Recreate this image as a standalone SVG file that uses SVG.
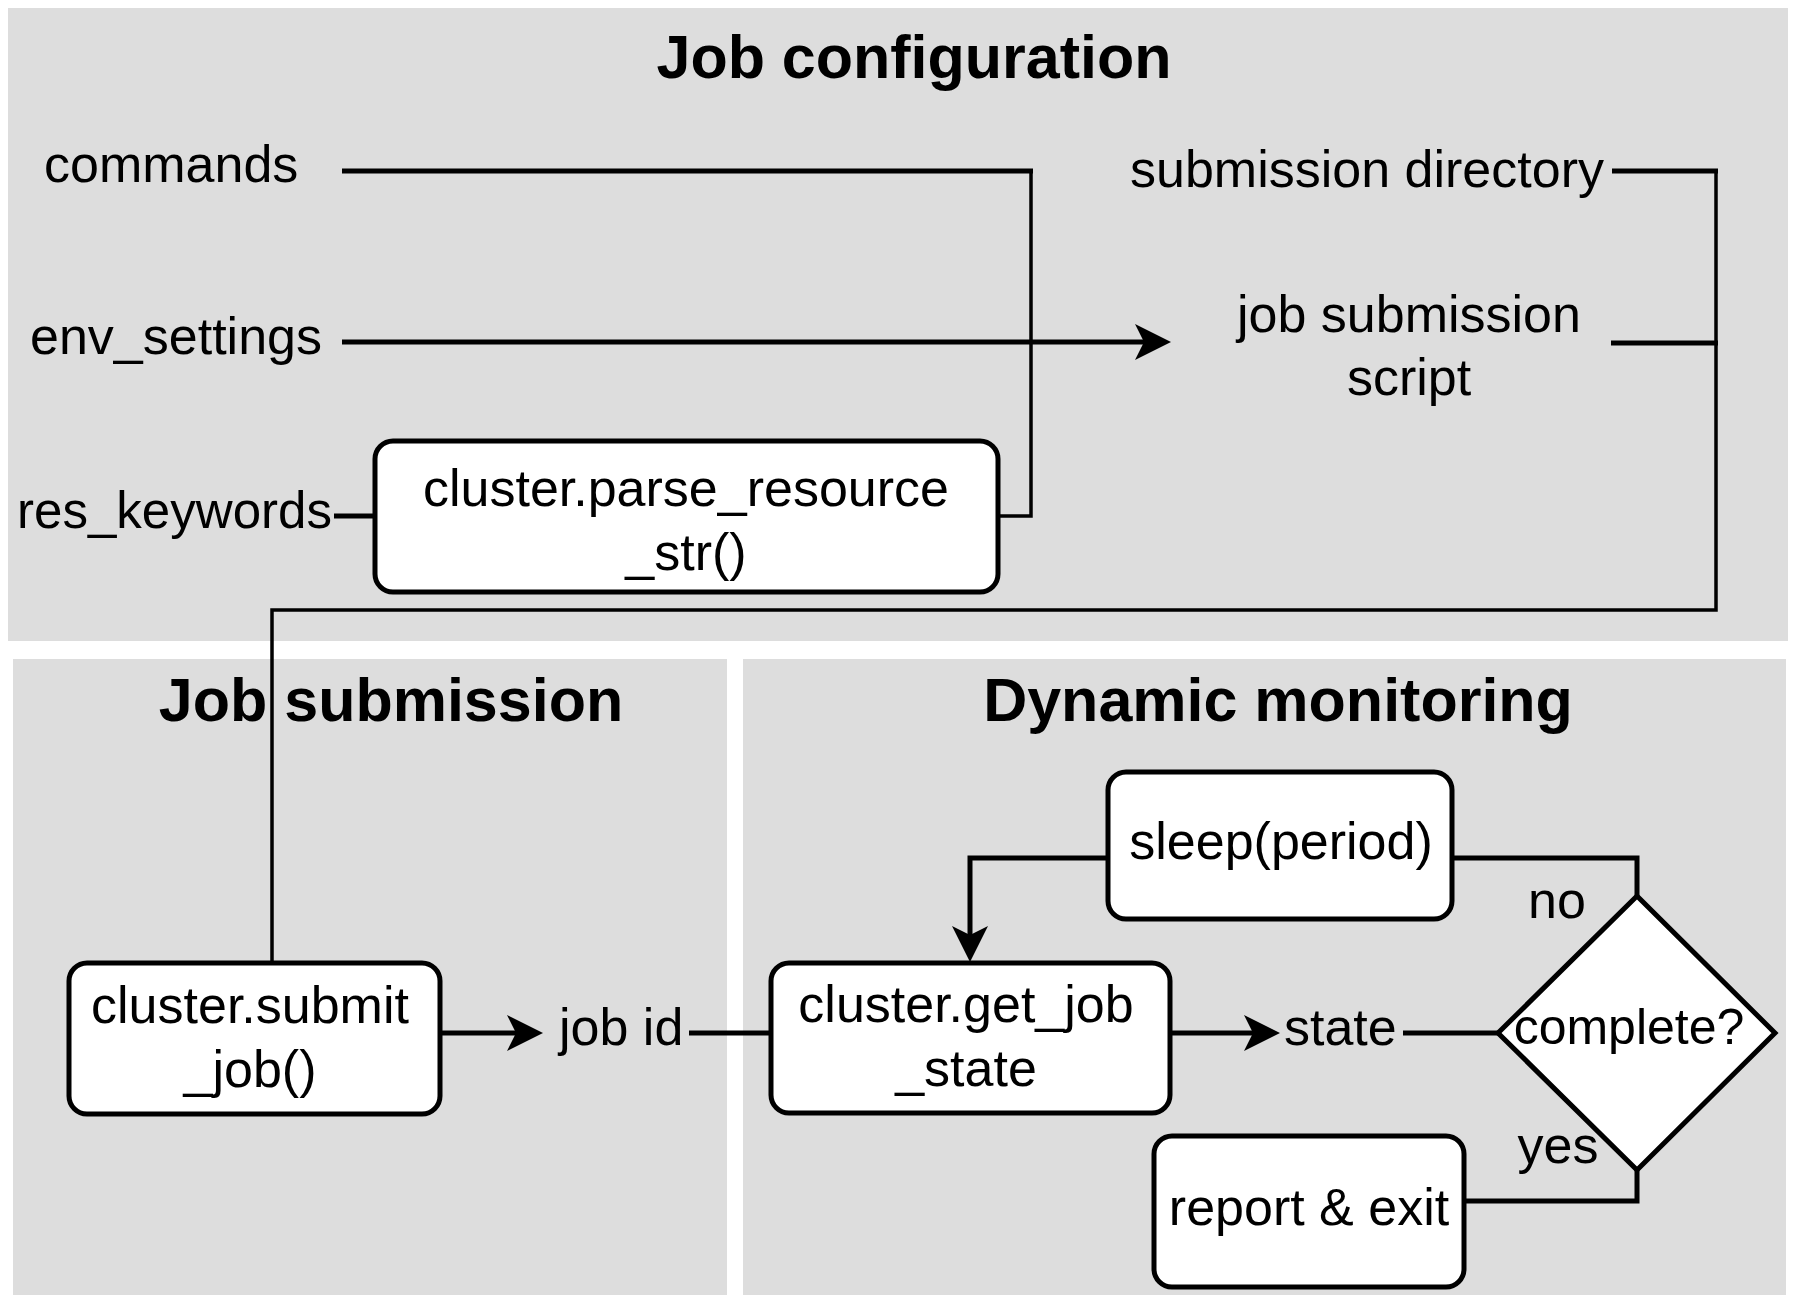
<svg xmlns="http://www.w3.org/2000/svg" width="1800" height="1307" viewBox="0 0 1800 1307">
<style>
  .panel { fill: #dddddd; stroke: none; }
  .box { fill: #ffffff; stroke: #000000; stroke-width: 5; }
  .title { font-family: "Liberation Sans", Arial, sans-serif; font-weight: bold; font-size: 61px; fill: #000; text-anchor: middle; }
  .lbl { font-family: "Liberation Sans", Arial, sans-serif; font-size: 52px; fill: #000; }
  .mid { text-anchor: middle; }
  .conn { fill: none; stroke: #000; stroke-width: 5; stroke-linejoin: miter; }
  .thin { stroke-width: 3.5; stroke-linecap: square; }
</style>
<defs>
  <marker id="arrow" markerUnits="userSpaceOnUse" markerWidth="40" markerHeight="40" viewBox="-1 -20 40 40" refX="9" refY="0" orient="auto">
    <path d="M0,-18 L36,0 L0,18 L9,0 z" fill="#000"/>
  </marker>
</defs>
<rect width="1800" height="1307" fill="#ffffff"/>
<g id="panels">
  <rect class="panel" x="8" y="8" width="1780" height="633"/>
  <rect class="panel" x="13" y="659" width="714" height="636"/>
  <rect class="panel" x="743" y="659" width="1043" height="636"/>
  <text class="title" x="914" y="78">Job configuration</text>
  <text class="title" x="391" y="721">Job submission</text>
  <text class="title" x="1278" y="721">Dynamic monitoring</text>
</g>
<g id="connectors">
  <path class="conn" d="M342,171 L1033,171"/>
  <path class="conn thin" d="M1031,171 L1031,516 L998,516"/>
  <path class="conn" d="M342,342 L1144,342" marker-end="url(#arrow)"/>
  <path class="conn" d="M334,516 L375,516"/>
  <path class="conn" d="M1612,171 L1718,171"/>
  <path class="conn thin" d="M1716,171 L1716,610 L272,610 L272,963"/>
  <path class="conn" d="M1611,343 L1718,343"/>
  <path class="conn" d="M440,1033 L516,1033" marker-end="url(#arrow)"/>
  <path class="conn" d="M689,1033 L771,1033"/>
  <path class="conn" d="M1170,1033 L1253,1033" marker-end="url(#arrow)"/>
  <path class="conn" d="M1403,1033 L1498,1033"/>
  <path class="conn" d="M1637,896 L1637,858 L1452,858"/>
  <path class="conn" d="M1108,858 L970,858 L970,935" marker-end="url(#arrow)"/>
  <path class="conn" d="M1637,1170 L1637,1201 L1464,1201"/>
</g>
<g id="commands"><text class="lbl" x="44" y="182">commands</text></g>
<g id="env_settings"><text class="lbl" x="30" y="354">env_settings</text></g>
<g id="res_keywords"><text class="lbl" x="17" y="528" textLength="315" lengthAdjust="spacingAndGlyphs">res_keywords</text></g>
<g id="submission_directory"><text class="lbl mid" x="1367" y="187">submission directory</text></g>
<g id="job_submission_script">
  <text class="lbl mid" x="1409" y="332">job submission</text>
  <text class="lbl mid" x="1409" y="395">script</text>
</g>
<g id="parse_resource">
  <rect class="box" x="375" y="441" width="623" height="151" rx="18"/>
  <text class="lbl mid" x="686" y="506">cluster.parse_resource</text>
  <text class="lbl mid" x="686" y="570">_str()</text>
</g>
<g id="submit_job">
  <rect class="box" x="69" y="963" width="371" height="151" rx="18"/>
  <text class="lbl mid" x="250" y="1023">cluster.submit</text>
  <text class="lbl mid" x="250" y="1087">_job()</text>
</g>
<g id="job_id"><text class="lbl" x="559" y="1045">job id</text></g>
<g id="get_job_state">
  <rect class="box" x="771" y="963" width="399" height="150" rx="18"/>
  <text class="lbl mid" x="966" y="1022">cluster.get_job</text>
  <text class="lbl mid" x="966" y="1086">_state</text>
</g>
<g id="state"><text class="lbl" x="1284" y="1045">state</text></g>
<g id="complete">
  <polygon class="box" points="1498,1033 1637,896 1775,1033 1637,1170"/>
  <text class="lbl mid" x="1629" y="1044" style="font-size:50px">complete?</text>
</g>
<g id="sleep">
  <rect class="box" x="1108" y="772" width="344" height="147" rx="18"/>
  <text class="lbl mid" x="1281" y="859">sleep(period)</text>
</g>
<g id="no_label"><text class="lbl mid" x="1557" y="918">no</text></g>
<g id="yes_label"><text class="lbl mid" x="1558" y="1163">yes</text></g>
<g id="report_exit">
  <rect class="box" x="1154" y="1136" width="310" height="151" rx="18"/>
  <text class="lbl mid" x="1309" y="1225">report &amp; exit</text>
</g>
</svg>
